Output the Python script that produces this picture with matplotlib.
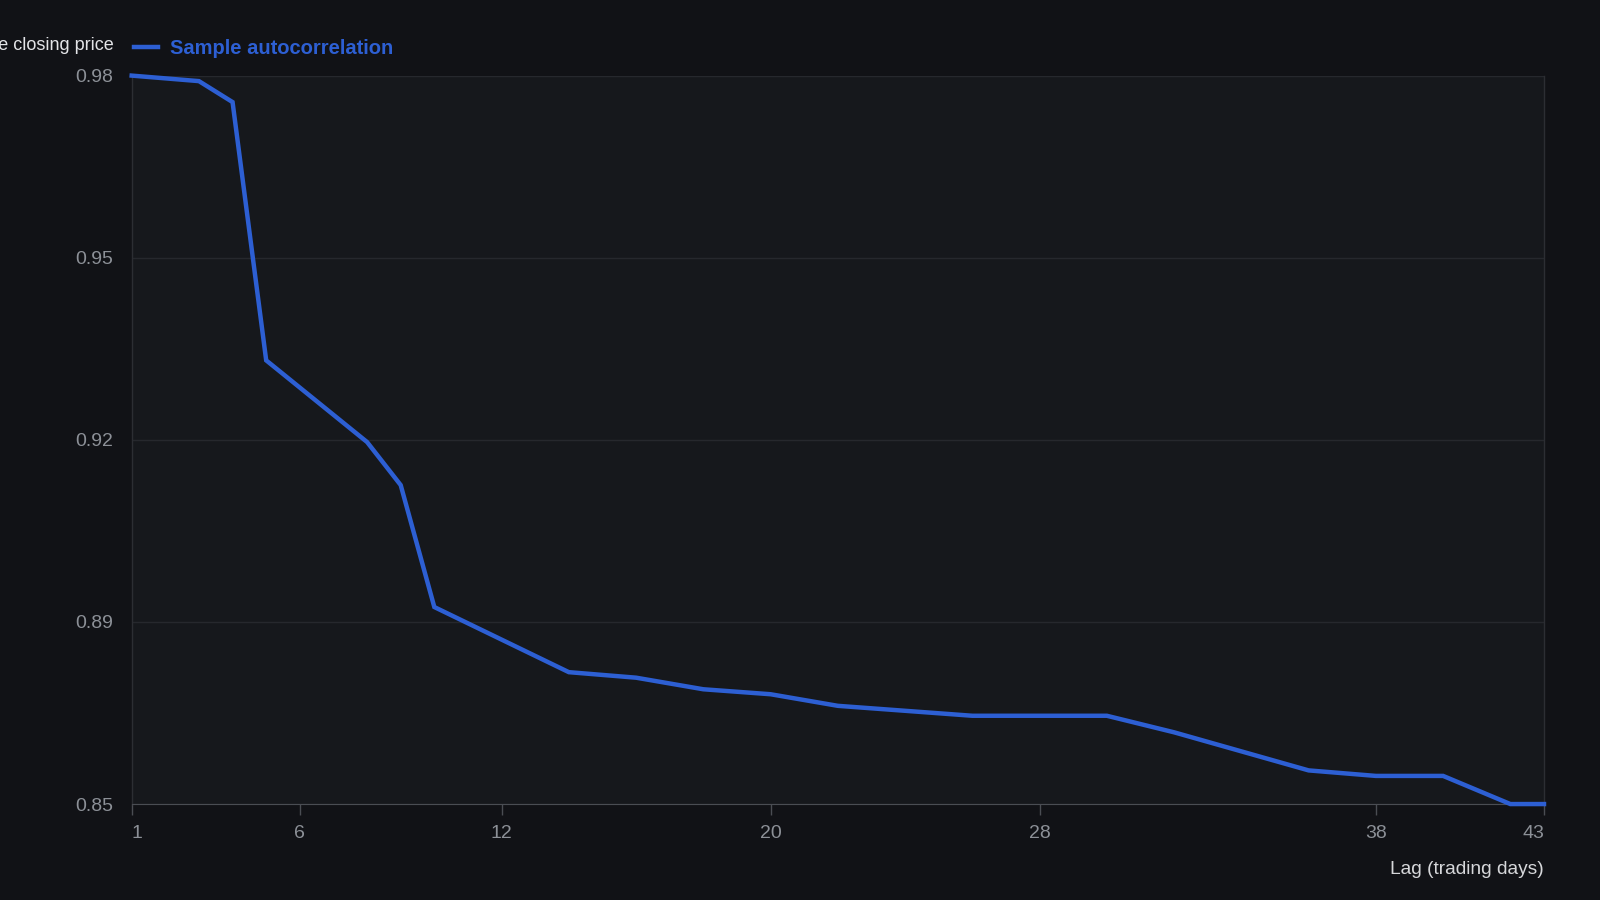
import numpy as np
import matplotlib
matplotlib.use("Agg")
import matplotlib.pyplot as plt

# Sample autocorrelation of the closing price
lags = [1, 3, 4, 5, 8, 9, 10, 14, 16, 18, 20, 22, 26, 30, 32, 36, 38, 40, 42, 43]
acf = [0.9846, 0.9836, 0.9798, 0.9330, 0.9182, 0.9104, 0.8883, 0.8765, 0.8755,
       0.8734, 0.8725, 0.8704, 0.8686, 0.8686, 0.8656, 0.8587, 0.8577, 0.8577,
       0.8526, 0.8526]
xticks = [1, 6, 12, 20, 28, 38, 43]

fig_bg = "#111216"
ax_bg = "#16181c"
blue = "#2d5fd3"
grid_c = "#26282d"

plt.rcParams["font.family"] = ["Liberation Sans", "DejaVu Sans"]

fig = plt.figure(figsize=(16, 9), dpi=100, facecolor=fig_bg)
ax = fig.add_axes([0.0823, 0.1066, 0.965 - 0.0823, 0.916 - 0.1066])
ax.set_facecolor(ax_bg)

ax.plot(lags, acf, color=blue, linewidth=3.2, solid_joinstyle="miter",
        label="Sample autocorrelation", zorder=3, clip_on=False)

lo, hi = min(acf), max(acf)
ax.set_xlim(1, 43)
ax.set_ylim(lo, hi)
yt = np.linspace(lo, hi, 5)
ax.set_yticks(yt)
ax.set_yticklabels(["%.2f" % v for v in yt])
ax.set_xticks(xticks)
ax.set_xticklabels([str(v) for v in xticks])
labels = ax.get_xticklabels()
labels[0].set_ha("left")
labels[-1].set_ha("right")

ax.grid(axis="y", color=grid_c, linewidth=1)
ax.tick_params(axis="y", length=0, pad=13, labelsize=14, labelcolor="#8c9097")
ax.tick_params(axis="x", length=8, width=1, color="#4a4d53", pad=7,
               labelsize=14, labelcolor="#8c9097")
for side in ["left", "right"]:
    ax.spines[side].set_color("#2c2e33")
    ax.spines[side].set_linewidth(1)
ax.spines["bottom"].set_color("#4a4d53")
ax.spines["top"].set_visible(False)

# y axis name sits at the top left, partly cut off by the figure edge
fig.text(0.071, 0.944, "Autocorrelation of the closing price", ha="right",
         va="baseline", fontsize=13, color="#e4e5e8")
ax.set_xlabel("Lag (trading days)", fontsize=13.8, color="#d6d7da")
ax.xaxis.set_label_coords(1.0, -0.078)
ax.xaxis.label.set_ha("right")

leg = ax.legend(loc="lower left", bbox_to_anchor=(-0.0085, 1.005), frameon=False,
                handlelength=1.2, handletextpad=0.6, borderaxespad=0.3,
                prop={"size": 14.5, "weight": "bold"})
for t in leg.get_texts():
    t.set_color(blue)

fig.savefig("out.png", dpi=100, facecolor=fig_bg)
